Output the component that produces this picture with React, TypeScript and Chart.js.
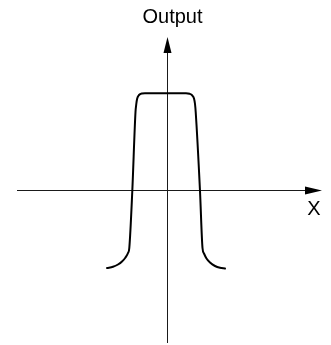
import React, { useEffect, useRef } from "react";
import { Chart, registerables } from "chart.js";

Chart.register(...registerables);

// Curve samples (input X, output value)
const curveX: number[] = [
  -1.22, -1.1, -1.0, -0.92, -0.85, -0.8, -0.774, -0.714, -0.65, -0.634, -0.616, -0.58, -0.52, -0.46,
  0.36, 0.43, 0.486, 0.52, 0.54, 0.554, 0.64, 0.69, 0.72, 0.77, 0.84, 0.94, 1.04, 1.14,
];
const curveY: number[] = [
  -1.54, -1.516, -1.47, -1.41, -1.33, -1.24, -1.14, 0, 1.58, 1.74, 1.85, 1.92, 1.95, 1.954,
  1.954, 1.944, 1.91, 1.85, 1.74, 1.58, 0, -1.14, -1.25, -1.35, -1.43, -1.5, -1.536, -1.55,
];
const xRange: number[] = [-3.02, 3.08];
const yRange: number[] = [-3.04, 3.08];
const xAxisLabel = "X";
const yAxisLabel = "Output";

const axesPlugin = {
  id: "arrowAxes",
  beforeDatasetsDraw(chart: any) {
    const { ctx, scales } = chart;
    const xs = scales.x;
    const ys = scales.y;
    const x0 = Math.round(xs.getPixelForValue(0)) - 0.5;
    const y0 = Math.round(ys.getPixelForValue(0)) - 0.5;
    const left = xs.getPixelForValue(xRange[0]);
    const right = xs.getPixelForValue(xRange[1]);
    const top = ys.getPixelForValue(yRange[1]);
    const bottom = ys.getPixelForValue(yRange[0]);
    ctx.save();
    ctx.strokeStyle = "#1a1a1a";
    ctx.fillStyle = "#000";
    ctx.lineWidth = 1;
    // x axis
    ctx.beginPath();
    ctx.moveTo(left, y0);
    ctx.lineTo(right - 8, y0);
    ctx.stroke();
    // y axis
    ctx.beginPath();
    ctx.moveTo(x0, bottom);
    ctx.lineTo(x0, top + 8);
    ctx.stroke();
    // arrows
    ctx.beginPath();
    ctx.moveTo(right, y0);
    ctx.lineTo(right - 17, y0 - 4);
    ctx.lineTo(right - 17, y0 + 4);
    ctx.closePath();
    ctx.fill();
    ctx.beginPath();
    ctx.moveTo(x0, top);
    ctx.lineTo(x0 - 4, top + 16);
    ctx.lineTo(x0 + 4, top + 16);
    ctx.closePath();
    ctx.fill();
    // labels
    ctx.font = '20px "Liberation Sans", Arial, sans-serif';
    ctx.textAlign = "center";
    ctx.textBaseline = "alphabetic";
    ctx.fillStyle = "#000";
    ctx.fillText(yAxisLabel, x0 + 5, top - 14);
    ctx.fillText(xAxisLabel, right - 8, y0 + 24);
    ctx.restore();
  },
};

export default function App() {
  const ref = useRef<HTMLCanvasElement | null>(null);
  useEffect(() => {
    if (!ref.current) return;
    const chart = new Chart(ref.current, {
      type: "line",
      data: {
        datasets: [
          {
            data: curveX.map((x, i) => ({ x, y: curveY[i] })),
            borderColor: "#000",
            borderWidth: 2,
            pointRadius: 0,
            cubicInterpolationMode: "monotone",
            borderCapStyle: "round",
            borderJoinStyle: "round",
            fill: false,
          },
        ],
      },
      options: {
        responsive: false,
        animation: false,
        layout: { padding: { left: 17, right: 9, top: 37, bottom: 2 } },
        plugins: { legend: { display: false }, tooltip: { enabled: false } },
        scales: {
          x: { type: "linear", min: xRange[0], max: xRange[1], display: false },
          y: { type: "linear", min: yRange[0], max: yRange[1], display: false },
        },
      },
      plugins: [axesPlugin],
    });
    return () => chart.destroy();
  }, []);
  return (
    <div style={{ position: "fixed", left: 0, top: 0, width: 331, height: 345, background: "#fff" }}>
      <canvas ref={ref} width={331} height={345} />
    </div>
  );
}
